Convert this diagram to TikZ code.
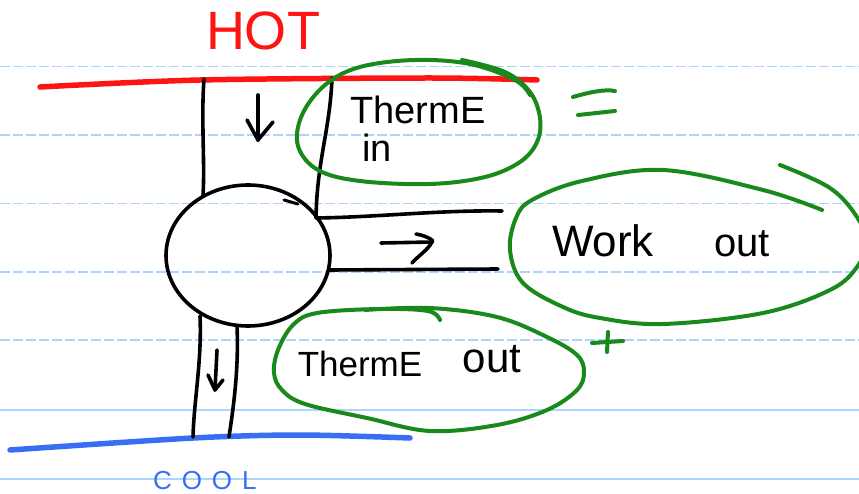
\documentclass[tikz,border=0pt]{standalone}
\usepackage{fontspec}
\setmainfont{Liberation Sans}
\usetikzlibrary{shapes.geometric}
\definecolor{rulecol}{HTML}{ADD3FF}
\definecolor{hotred}{HTML}{FF1414}
\definecolor{coolblue}{HTML}{3A6EF2}
\definecolor{loopgreen}{HTML}{18891A}

\begin{document}
\begin{tikzpicture}[x=1pt,y=-1pt,line cap=round,line join=round,
  ink/.style={draw=black,line width=3.6pt},
  ruledash/.style={draw=rulecol,line width=1.3pt,dash pattern=on 10pt off 3pt,line cap=butt},
  rulesolid/.style={draw=rulecol,line width=1.3pt},
  loop/.style={draw=loopgreen,line width=4pt},
  label/.style={inner sep=0pt,anchor=base,text=black},
  fs/.style={font=\fontsize{#1}{#1}\selectfont}]

% page
\fill[white] (0,0) rectangle (859,494);
\useasboundingbox (0,0) rectangle (859,494);
\clip (0,0) rectangle (859,494);

% ruled paper
\foreach \yy in {66.5,135,203.5,272,340}
  \draw[ruledash] (0,\yy) -- (859,\yy);
\foreach \yy in {410,479}
  \draw[rulesolid] (0,\yy) -- (859,\yy);

% reservoirs
\node[fs=54,inner sep=0pt,anchor=base,text=hotred] (hot) at (263,50) {HOT};
\draw[draw=hotred,line width=5.5pt] plot[smooth] coordinates {(40,87) (200,80) (430,78) (537,80)};

\node[fs=26,inner sep=0pt,anchor=base west,text=coolblue] (cool) at (153,489)
  {\addfontfeature{LetterSpace=38}COOL};
\draw[draw=coolblue,line width=5.5pt] plot[smooth] coordinates {(10,450) (193,438) (300,435) (410,438)};

% engine
\node[ellipse,draw,line width=3.6pt,minimum width=164pt,minimum height=141pt,inner sep=0pt] (engine) at (248,255.5) {};
\coordinate (tick1) at (284,200);
\coordinate (tick2) at (298,204);
\draw[ink,line width=3pt] (tick1) -- (tick2);

% hot-side pipe
\coordinate (hin1) at (204,79);
\coordinate (ein1) at (203,196);
\coordinate (hin2) at (332,78);
\coordinate (ein2) at (316,218);
\draw[ink] (hin1) .. controls (201,120) and (205,160) .. (ein1);
\draw[ink] (hin2) .. controls (330,130) and (317,160) .. (ein2);
\coordinate (qa1) at (258,95);
\coordinate (qa2) at (258,140);
\draw[ink] (qa1) -- (qa2);
\draw[ink] (247,120) -- (qa2) -- (273,122);

% work pipe
\coordinate (ew1) at (317,218);
\coordinate (wo1) at (502,211);
\coordinate (ew2) at (330,270);
\coordinate (wo2) at (498,269);
\draw[ink] (ew1) .. controls (380,217) and (440,210) .. (wo1);
\draw[ink] (ew2) -- (wo2);
\coordinate (wa1) at (381,243);
\coordinate (wa2) at (432,242);
\draw[ink] (wa1) -- (wa2);
\draw[ink] (416,234) .. controls (428,236) and (436,242) .. (wa2) .. controls (428,250) and (418,256) .. (412,263);

% cold-side pipe
\coordinate (eo1) at (200,316);
\coordinate (co1) at (193,437);
\coordinate (eo2) at (237,326);
\coordinate (co2) at (229,437);
\draw[ink] (eo1) .. controls (202,360) and (194,400) .. (co1);
\draw[ink] (eo2) .. controls (239,370) and (233,410) .. (co2);
\coordinate (ca1) at (217,350);
\coordinate (ca2) at (215,390);
\draw[ink] (ca1) -- (ca2);
\draw[ink] (208,375) -- (ca2) -- (223,380);

% energy labels
\node[label,fs=38] (thin) at (418,124) {ThermE};
\node[label,fs=38] (thin2) at (377,162) {in};
\node[label,fs=44] (work) at (603,257) {Work};
\node[label,fs=40] (workout) at (742,257) {out};
\node[label,fs=35] (thout) at (360,376) {ThermE};
\node[label,fs=42] (thout2) at (492,372) {out};

% circled energy terms
\draw[loop] plot[smooth,tension=0.6] coordinates {(462,60) (505,72) (530,92) (540,118) (537,142) (520,162) (485,177) (430,184) (360,181) (318,170) (298,146) (302,115) (325,85) (360,67) (415,60) (470,64) (515,80) (530,95)};
\draw[loop] plot[smooth,tension=0.6] coordinates {(780,165) (830,188) (857,217) (866,242) (857,267) (830,290) (763,313) (663,324) (600,318) (563,307) (523,283) (510,250) (516,218) (532,200) (582,181) (663,170) (763,190) (822,210)};
\draw[loop] plot[smooth,tension=0.6] coordinates {(440,320) (428,311) (380,309) (317,313) (293,325) (278,350) (274,373) (282,390) (305,404) (367,418) (430,431) (497,425) (547,410) (577,390) (584,372) (577,355) (547,337) (497,317) (430,308) (365,310)};

% equals and plus signs
\draw[loop] (573,97) .. controls (590,92) and (605,89) .. (615,91);
\draw[loop] (578,115) -- (615,111);
\draw[loop] (592,343) -- (623,341);
\draw[loop] (608,332) -- (607,352);
\end{tikzpicture}
\end{document}
